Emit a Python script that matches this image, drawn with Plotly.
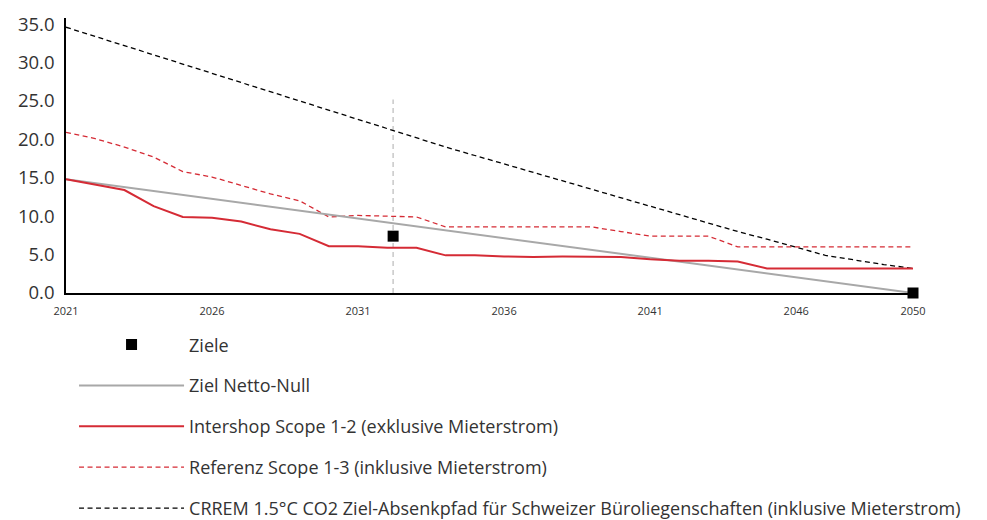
import plotly.graph_objects as go

years = list(range(2021, 2051))

intershop = [14.8, 14.1, 13.4, 11.3, 9.9, 9.8, 9.3, 8.3, 7.7, 6.1,
             6.1, 5.9, 5.9, 4.9, 4.9, 4.75, 4.7, 4.75, 4.75, 4.7,
             4.4, 4.2, 4.2, 4.1, 3.2, 3.2, 3.2, 3.2, 3.2, 3.2]

referenz = [20.9, 20.1, 19.0, 17.7, 15.8, 15.1, 14.0, 12.9, 12.0, 9.9,
            10.1, 10.0, 9.9, 8.6, 8.6, 8.6, 8.6, 8.6, 8.6, 8.0,
            7.4, 7.4, 7.4, 6.0, 6.0, 6.0, 6.0, 6.0, 6.0, 6.0]

crrem = [34.6, 33.4, 32.2, 31.0, 29.8, 28.6, 27.3, 26.1, 24.9, 23.7,
         22.5, 21.3, 20.1, 19.0, 17.9, 16.8, 15.7, 14.6, 13.5, 12.4,
         11.3, 10.2, 9.1, 8.0, 7.0, 5.9, 4.9, 4.3, 3.7, 3.2]

netto_null_years = [2021, 2050]
netto_null = [14.8, 0.0]

ziele_years = [2032.2, 2050]
ziele = [7.4, 0.0]

marker_line_x = [2032.2, 2032.2]
marker_line_y = [0.0, 25.2]

x_tickvals = [2021, 2026, 2031, 2036, 2041, 2046, 2050]
y_tickvals = [0, 5, 10, 15, 20, 25, 30, 35]

RED = "#d52b35"
GRAY = "#a8a8a8"
TXT = "#333333"
FONT = "Open Sans"

fig = go.Figure()

fig.add_trace(go.Scatter(
    x=marker_line_x, y=marker_line_y, mode="lines",
    line=dict(color="#c8c8c8", width=1.5, dash="5px,4px"),
    showlegend=False, hoverinfo="skip"))

fig.add_trace(go.Scatter(
    x=years, y=crrem, mode="lines", legendgroup="e", legendrank=5,
    name="CRREM 1.5°C CO2 Ziel-Absenkpfad für Schweizer Büroliegenschaften (inklusive Mieterstrom)",
    line=dict(color="#000000", width=1.3, dash="5px,3.5px")))

fig.add_trace(go.Scatter(
    x=years, y=referenz, mode="lines", legendgroup="d", legendrank=4,
    name="Referenz Scope 1-3 (inklusive Mieterstrom)",
    line=dict(color=RED, width=1.3, dash="5px,3.5px")))

fig.add_trace(go.Scatter(
    x=netto_null_years, y=netto_null, mode="lines", legendgroup="b", legendrank=2,
    name="Ziel Netto-Null",
    line=dict(color=GRAY, width=2)))

fig.add_trace(go.Scatter(
    x=years, y=intershop, mode="lines", legendgroup="c", legendrank=3,
    name="Intershop Scope 1-2 (exklusive Mieterstrom)",
    line=dict(color=RED, width=2)))

fig.add_trace(go.Scatter(
    x=ziele_years, y=ziele, mode="markers", legendgroup="a", legendrank=1,
    name="Ziele", cliponaxis=False,
    marker=dict(symbol="square", color="#000000", size=11)))

fig.update_layout(
    width=987, height=520,
    margin=dict(l=66, r=74, t=18, b=227, autoexpand=False),
    paper_bgcolor="white", plot_bgcolor="white",
    font=dict(family=FONT, color=TXT),
    showlegend=True,
    legend=dict(
        x=0.0095, y=-0.121, xanchor="left", yanchor="top",
        orientation="v", traceorder="grouped", tracegroupgap=14.5,
        itemwidth=105, font=dict(size=18, color=TXT, family=FONT),
        bgcolor="rgba(0,0,0,0)"),
    xaxis=dict(
        range=[2021, 2050], tickvals=x_tickvals,
        ticktext=[str(v) for v in x_tickvals],
        showgrid=False, zeroline=False, showline=True,
        linecolor="#000000", linewidth=2, ticklabelstandoff=7,
        tickfont=dict(size=11, color=TXT, family=FONT), ticks=""),
    yaxis=dict(
        range=[0, 35.8], tickvals=y_tickvals, tickformat=".1f",
        showgrid=False, zeroline=False, showline=True,
        linecolor="#000000", linewidth=1.5, ticklabelstandoff=6,
        tickfont=dict(size=18.5, color=TXT, family=FONT), ticks=""),
)

fig.write_html("out.html")
